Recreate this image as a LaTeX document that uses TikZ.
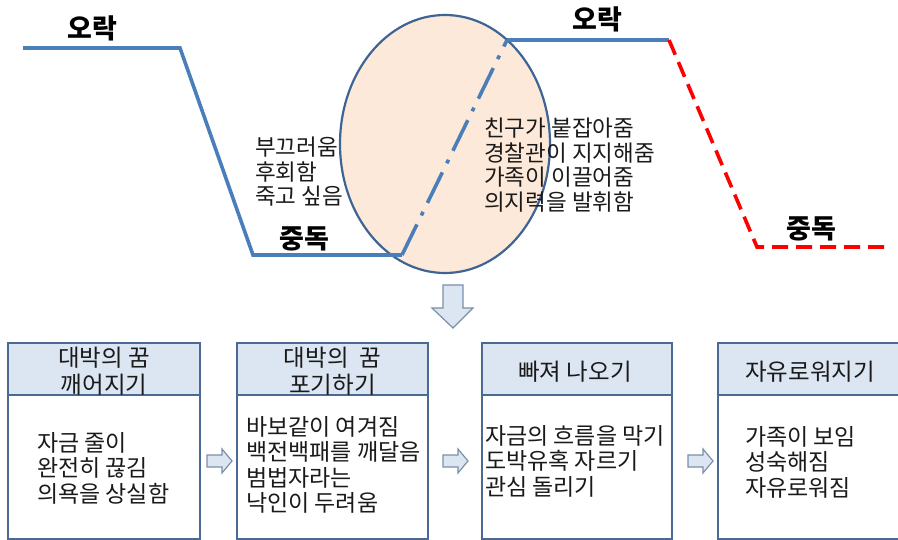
\documentclass[tikz,border=0pt]{standalone}
\usepackage{fontspec}
\setmainfont{Noto Sans CJK KR}
\usetikzlibrary{positioning,shapes.geometric}
\definecolor{lineblue}{HTML}{4A7EBB}
\definecolor{ellfill}{HTML}{FDE9D9}
\definecolor{ellborder}{HTML}{3E6494}
\definecolor{boxborder}{HTML}{4A6A94}
\definecolor{headfill}{HTML}{DCE6F2}
\definecolor{arrowborder}{HTML}{7A8FA8}
\definecolor{txt}{HTML}{1A1A1A}
\tikzset{
  curve/.style={draw=lineblue,line width=3.6pt},
  redcurve/.style={draw=red,line width=3.6pt,dash pattern=on 16pt off 8pt},
  dashdotcurve/.style={draw=lineblue,line width=3.6pt,dash pattern=on 34pt off 10pt on 4pt off 10pt},
  biglabel/.style={font=\fontsize{27}{30}\selectfont\bfseries,text=black,inner sep=0pt},
  toptext/.style={font=\fontsize{22.5}{24.5}\selectfont,align=left,text=txt,inner sep=0pt,anchor=west},
  bodytext/.style={font=\fontsize{23}{25.5}\selectfont,align=left,text=txt,inner sep=0pt,anchor=west},
  headtext/.style={font=\fontsize{23.5}{27}\selectfont,align=center,text=txt,inner sep=0pt},
  headbox/.style={draw=boxborder,fill=headfill,line width=2pt,minimum height=52pt,inner sep=0pt},
  bodybox/.style={draw=boxborder,fill=white,line width=2pt,minimum height=144pt,inner sep=0pt},
  blockarrow/.style={draw=arrowborder,fill=headfill,line width=1.2pt,line join=miter},
  rarrow/.pic={\path[blockarrow] (0,-6) -- (15,-6) -- (15,-12) -- (25,0) -- (15,12) -- (15,6) -- (0,6) -- cycle;}
}
\begin{document}
\begin{tikzpicture}[x=1pt,y=-1pt]
\clip (0,0) rectangle (898,540);
\fill[white] (0,0) rectangle (898,540);

% ellipse
\node[draw=ellborder,fill=ellfill,line width=2.2pt,ellipse,minimum width=210pt,minimum height=258pt,inner sep=0pt] (ell) at (445,144) {};

% curves
\coordinate (a1) at (23,48);
\coordinate (a2) at (180,48);
\coordinate (a3) at (253,255);
\coordinate (a4) at (402,255);
\coordinate (a5) at (507,40);
\coordinate (a6) at (669,40);
\coordinate (a7) at (757,247);
\coordinate (a8) at (885,247);
\draw[curve,line join=miter] (a1) -- (a2) -- (a3) -- (a4);
\draw[dashdotcurve] (a4) -- (a5);
\draw[curve] (a5) -- (a6);
\draw[redcurve,line join=miter] (a6) -- (a7) -- (a8);

% labels
\node[biglabel] (l1) at (92,28) {오락};
\node[biglabel] (l2) at (304,239) {중독};
\node[biglabel] (l3) at (597,19) {오락};
\node[biglabel] (l4) at (811,229) {중독};

\node[toptext] (t1) at (255,172) {부끄러움\\후회함\\죽고 싶음};
\node[toptext] (t2) at (484,165) {친구가 붙잡아줌\\경찰관이 지지해줌\\가족이 이끌어줌\\의지력을 발휘함};

% down arrow
\path[blockarrow] (443,285) -- (463,285) -- (463,308) -- (473,308) -- (453,328) -- (432,308) -- (443,308) -- cycle;

% boxes
\node[headbox,minimum width=192pt] (h1) at (104,369) {};
\node[bodybox,minimum width=192pt] (b1) at (104,467) {};
\node[headbox,minimum width=191pt] (h2) at (332.5,369) {};
\node[bodybox,minimum width=191pt] (b2) at (332.5,467) {};
\node[headbox,minimum width=190pt] (h3) at (577,369) {};
\node[bodybox,minimum width=190pt] (b3) at (577,467) {};
\node[headbox,minimum width=200pt] (h4) at (818,369) {};
\node[bodybox,minimum width=200pt] (b4) at (818,467) {};

\node[headtext] (ht1) at (104,371) {대박의 꿈\\깨어지기};
\node[headtext] (ht2) at (332.5,371) {대박의\ \ 꿈\\포기하기};
\node[headtext] (ht3) at (575,372) {빠져 나오기};
\node[headtext] (ht4) at (810,372) {자유로워지기};

\node[bodytext] (bt1) at (37,468) {자금 줄이\\완전히 끊김\\의욕을 상실함};
\node[bodytext] (bt2) at (246,465) {바보같이 여겨짐\\백전백패를 깨달음\\범법자라는\\낙인이 두려움};
\node[bodytext] (bt3) at (485,461) {자금의 흐름을 막기\\도박유혹 자르기\\관심 돌리기};
\node[bodytext] (bt4) at (745,462) {가족이 보임\\성숙해짐\\자유로워짐};

% right arrows
\pic at (207,461) {rarrow};
\pic at (443,461) {rarrow};
\pic at (688,461) {rarrow};
\end{tikzpicture}
\end{document}
